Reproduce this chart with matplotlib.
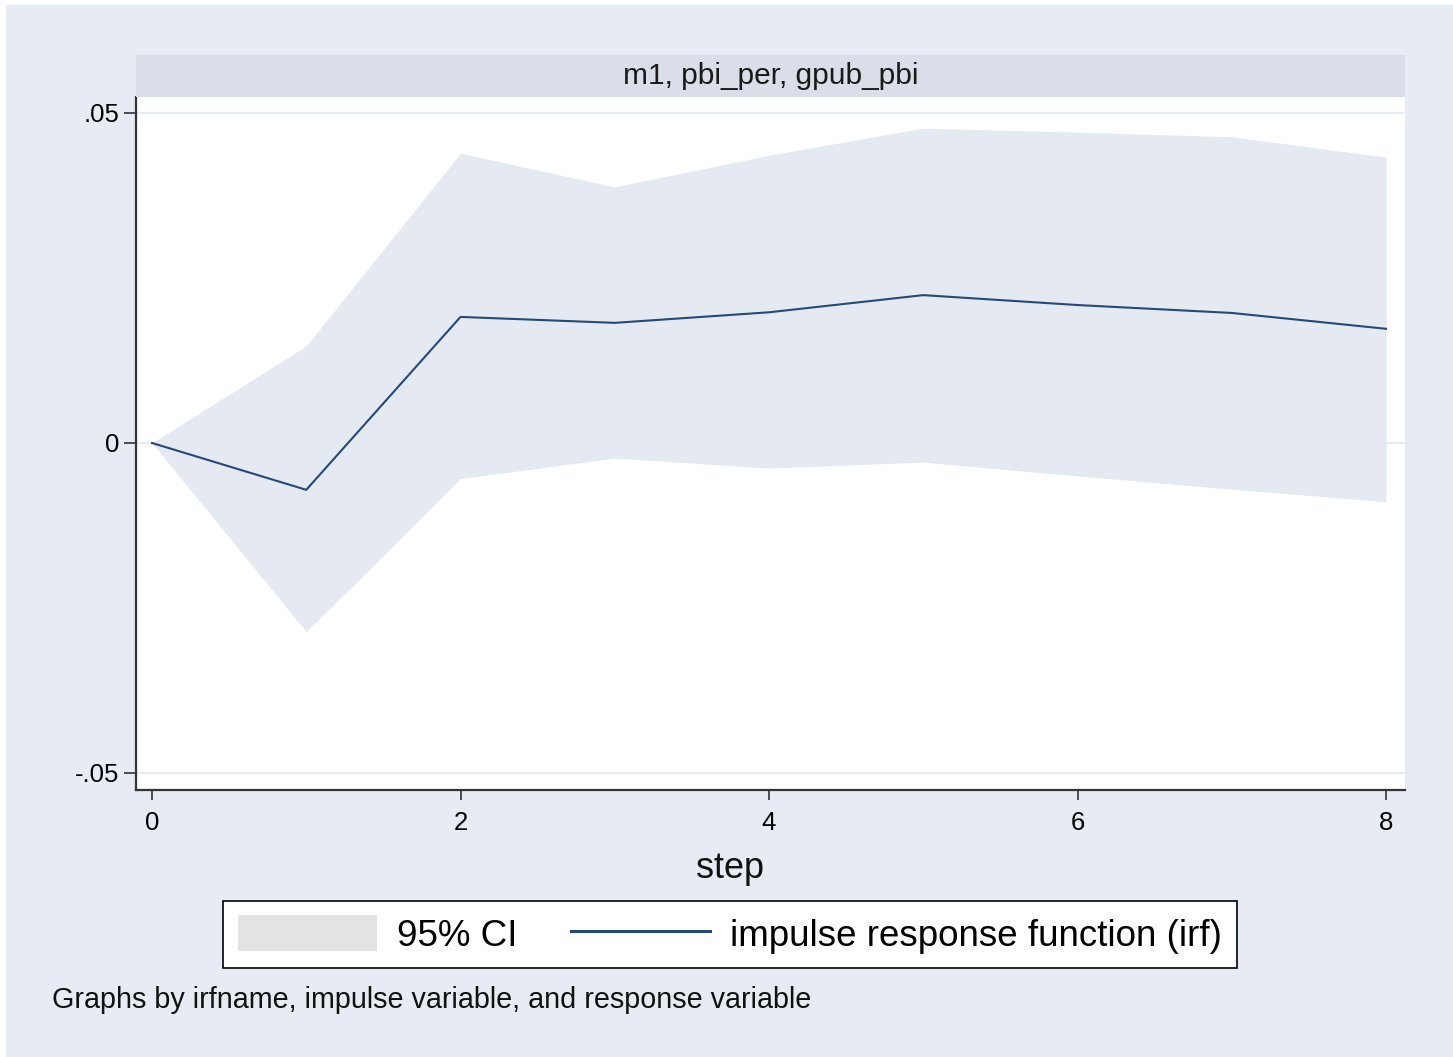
import matplotlib
matplotlib.use("Agg")
import matplotlib.pyplot as plt
from matplotlib.patches import Patch, Rectangle
from matplotlib.lines import Line2D

plt.rcParams['font.family'] = ['Liberation Sans', 'DejaVu Sans']

steps = [0, 1, 2, 3, 4, 5, 6, 7, 8]
irf = [0.0, -0.0071, 0.0191, 0.0182, 0.0198, 0.0224, 0.0209, 0.0197, 0.0173]
ci_upper = [0.0, 0.0147, 0.0439, 0.0388, 0.0436, 0.0477, 0.0471, 0.0464, 0.0433]
ci_lower = [0.0, -0.0286, -0.0054, -0.0023, -0.0038, -0.0029, -0.0050, -0.0070, -0.0089]
yticks = [-0.05, 0, 0.05]
yticklabels = ['-.05', '0', '.05']
xticks = [0, 2, 4, 6, 8]
title = 'm1, pbi_per, gpub_pbi'
xlabel = 'step'
legend_labels = ['95% CI', 'impulse response function (irf)']
footer = 'Graphs by irfname, impulse variable, and response variable'

W, H = 1453, 1057
bg = '#E7EBF3'
line_col = '#24497A'
band_col = '#E5E9F1'

fig = plt.figure(figsize=(W / 100, H / 100), dpi=100, facecolor='white')
fig.patches.append(Rectangle((6 / W, 0), 1 - 6 / W, 1 - 5 / H, transform=fig.transFigure,
                             facecolor=bg, edgecolor='none', zorder=-10))

ax_l, ax_r, ax_t, ax_b = 136, 1405, 97, 790
ax = fig.add_axes([ax_l / W, 1 - ax_b / H, (ax_r - ax_l) / W, (ax_b - ax_t) / H])
ax.set_facecolor('white')

# strip title
strip_t = 55
fig.patches.append(Rectangle((ax_l / W, 1 - ax_t / H), (ax_r - ax_l) / W, (ax_t - strip_t) / H,
                             transform=fig.transFigure, facecolor='#D9DEE8', edgecolor='none'))
fig.text((ax_l + ax_r) / 2 / W, 1 - (ax_t + strip_t) / 2 / H, title, ha='center', va='center',
         fontsize=21.5, color='#1a1a1a')

for yv in yticks:
    ax.axhline(yv, color='#E8ECF3', lw=1.6, zorder=0)

ax.fill_between(steps, ci_lower, ci_upper, color=band_col, lw=0, zorder=1)
ax.plot(steps, irf, color=line_col, lw=1.5, zorder=2)

ax.set_xlim(-0.1037, 8.123)
ax.set_ylim(-0.05258, 0.05242)
ax.set_yticks(yticks)
ax.set_yticklabels(yticklabels)
ax.set_xticks(xticks)
for s in ['top', 'right']:
    ax.spines[s].set_visible(False)
for s in ['left', 'bottom']:
    ax.spines[s].set_color('#333333')
    ax.spines[s].set_linewidth(1.6)
ax.tick_params(axis='y', length=9, width=1.2, color='#333333', labelsize=18.5, pad=3)
ax.tick_params(axis='x', length=7, width=1.2, color='#333333', labelsize=18.5, pad=8)

fig.text(730 / W, 1 - 868 / H, xlabel, ha='center', va='center', fontsize=26, color='#111111')

handles = [Patch(facecolor='#E3E3E3', edgecolor='none'), Line2D([0], [0], color=line_col, lw=2.2)]
leg = fig.legend(handles, legend_labels, loc='center', ncol=2,
                 bbox_to_anchor=(730 / W, 1 - 934.5 / H), fontsize=26.5,
                 frameon=True, fancybox=False, edgecolor='black', framealpha=1,
                 handlelength=3.78, handleheight=1.09, handletextpad=0.55,
                 columnspacing=1.45, borderpad=0.4)
leg.get_frame().set_linewidth(1.2)

fig.text(52 / W, 1 - 1000 / H, footer, ha='left', va='center', fontsize=20.7, color='#111111')

fig.savefig('out.png', dpi=100, facecolor=fig.get_facecolor())
